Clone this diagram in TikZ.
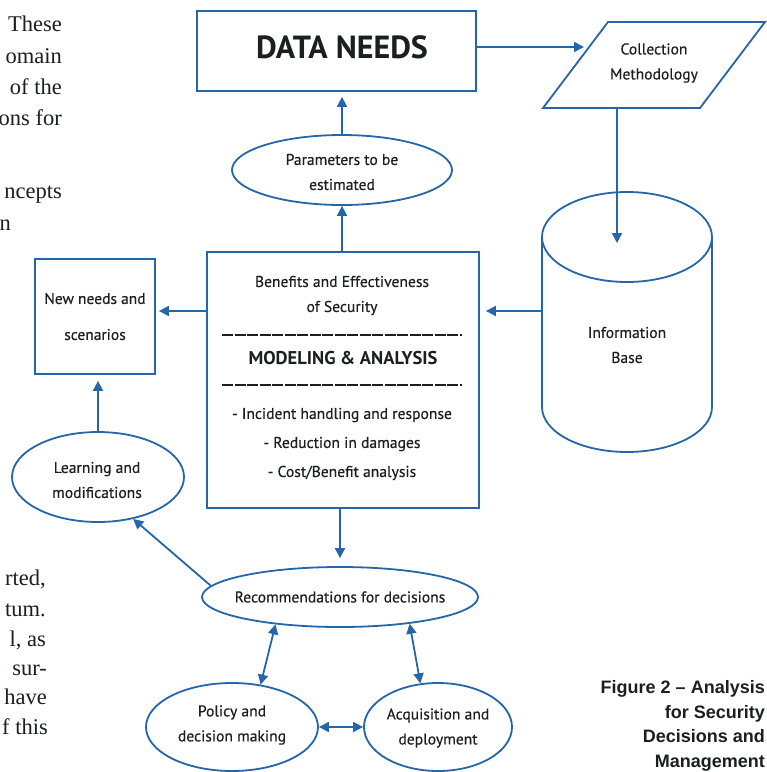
\documentclass[tikz,border=0pt]{standalone}
\usepackage{fontspec}
\setmainfont{Liberation Serif}
\newfontfamily\dfont[FakeBold=0.35]{PT Sans}
\newfontfamily\dbfont{PT Sans Bold}
\newfontfamily\capfont{Liberation Sans}
\usetikzlibrary{arrows.meta,shapes.geometric}
\definecolor{lineblue}{HTML}{2566AA}
\definecolor{inkc}{HTML}{1A2020}
\tikzset{
  bline/.style={draw=lineblue, line width=1.8pt},
  arr/.style={bline, -{Triangle[length=10pt,width=10pt]}},
  darr/.style={bline, {Triangle[length=10pt,width=10pt]}-{Triangle[length=10pt,width=10pt]}},
  lbl/.style={text=inkc, font=\dfont\fontsize{15.6}{25}\selectfont, align=center, inner sep=0pt},
  boldlbl/.style={text=inkc, font=\dbfont\fontsize{18.5}{20}\selectfont, inner sep=0pt},
  ell/.style={ellipse, bline, inner sep=0pt},
  boxnode/.style={rectangle, bline, inner sep=0pt, text=inkc, font=\dfont\fontsize{15.5}{36}\selectfont, align=center},
  rulel/.style={draw=inkc, line width=2pt, dash pattern=on 11pt off 1.5pt},
  bodytxt/.style={text=inkc, font=\fontsize{22.5}{30}\selectfont, anchor=base east, inner sep=0pt},
  captxt/.style={text=inkc, font=\capfont\bfseries\fontsize{18}{24.8}\selectfont, align=right, anchor=north east, inner sep=0pt}
}
\begin{document}
\begin{tikzpicture}[x=1pt,y=-1pt]
\useasboundingbox[fill=white] (0,0) rectangle (767,772);

% body text fragments (left margin)
\node[bodytxt] (t1) at (62,31) {These};
\node[bodytxt] (t2) at (62,63) {omain};
\node[bodytxt] (t3) at (62,94) {of the};
\node[bodytxt] (t4) at (62,125) {ons for};
\node[bodytxt] (t5) at (62,198) {ncepts};
\node[bodytxt] (t6) at (11,230) {n};
\node[bodytxt] (b1) at (46,585) {rted,};
\node[bodytxt] (b2) at (46,616) {tum.};
\node[bodytxt] (b3) at (46,646) {l, as};
\node[bodytxt] (b4) at (47,675) {sur-};
\node[bodytxt] (b5) at (47,704) {have};
\node[bodytxt] (b6) at (48,734) {f this};

% DATA NEEDS
\node[rectangle, bline, minimum width=279pt, minimum height=80pt] (dn) at (336.5,51) {};
\node[text=inkc, font=\dbfont\fontsize{32}{33}\selectfont, inner sep=0pt] (dntext) at (342,47) {DATA NEEDS};

% Collection Methodology parallelogram
\draw[bline] (608,22) -- (765,22) -- (700,108) -- (543,108) -- cycle;
\node[lbl] (coll) at (654,63) {Collection\\Methodology};
\coordinate (collin) at (584,47);
\coordinate (collbot) at (617,108);
\coordinate (infotop) at (617,243);

% Information base cylinder
\draw[bline, fill=white] (542,237) -- (542,407) arc[start angle=180, end angle=0, x radius=85, y radius=45] -- (712,237);
\draw[bline] (627,237) ellipse [x radius=85, y radius=45];
\node[lbl] (info) at (627,345) {Information\\Base};
\coordinate (cylL) at (542,311);

% Parameters ellipse
\node[ell, minimum width=220pt, minimum height=70pt] (par) at (342,170) {};
\node[lbl] (partext) at (342,172) {Parameters to be\\estimated};

% main box
\node[rectangle, bline, minimum width=272pt, minimum height=256pt] (main) at (343,380) {};
\node[lbl] (ben) at (342,295.5) {Benefits and Effectiveness\\of Security};
\draw[rulel] (222,335) -- (462,335);
\node[boldlbl] (mod) at (343,358) {MODELING \& ANALYSIS};
\draw[rulel] (222,385) -- (462,385);
\node[lbl, font=\dfont\fontsize{15.6}{29}\selectfont] (items) at (342,444) {- Incident handling and response\\- Reduction in damages\\- Cost/Benefit analysis};

% New needs box
\node[boxnode, minimum width=120pt, minimum height=115pt] (nn) at (95,316.5) {New needs and\\scenarios};

% Learning ellipse
\node[ell, minimum width=172pt, minimum height=90pt] (learn) at (98,477) {};
\node[lbl] (learntext) at (97,480) {Learning and\\modifications};

% Recommendations
\node[ell, minimum width=276pt, minimum height=60pt] (rec) at (340,597) {};
\node[lbl] (rectext) at (340,597) {Recommendations for decisions};

% Policy & Acquisition
\node[ell, minimum width=172pt, minimum height=88pt] (pol) at (232,727) {};
\node[lbl] (poltext) at (232,725) {Policy and\\decision making};
\node[ell, minimum width=148pt, minimum height=88pt] (acq) at (438,727) {};
\node[lbl] (acqtext) at (438,728) {Acquisition and\\deployment};

% caption
\node[captxt] (cap) at (765,680) {Figure 2 – Analysis\\for Security\\Decisions and\\Management};

% connectors
\draw[arr] (dn.east |- collin) -- (collin);
\draw[arr] (collbot) -- (infotop);
\draw[arr] (cylL) -- ([xshift=6pt]main.east |- cylL);
\draw[arr] (par.south |- main.north) -- (par.south);
\draw[arr, shorten >=5pt] (par.north) -- (par.north |- dn.south);
\draw[arr, shorten >=3pt] (main.west |- cylL) -- (nn.east |- cylL);
\draw[arr, shorten >=6pt] (learn.north) -- (learn.north |- nn.south);
\draw[arr, shorten >=8pt] (rec.north |- main.south) -- (rec.north);
\draw[arr] (rec.175) -- (learn.-50);
\draw[darr] (rec.203) -- (pol.56);
\draw[darr] (rec.-21) -- (acq.112);
\draw[darr] (pol.east) -- (acq.west);
\end{tikzpicture}
\end{document}
